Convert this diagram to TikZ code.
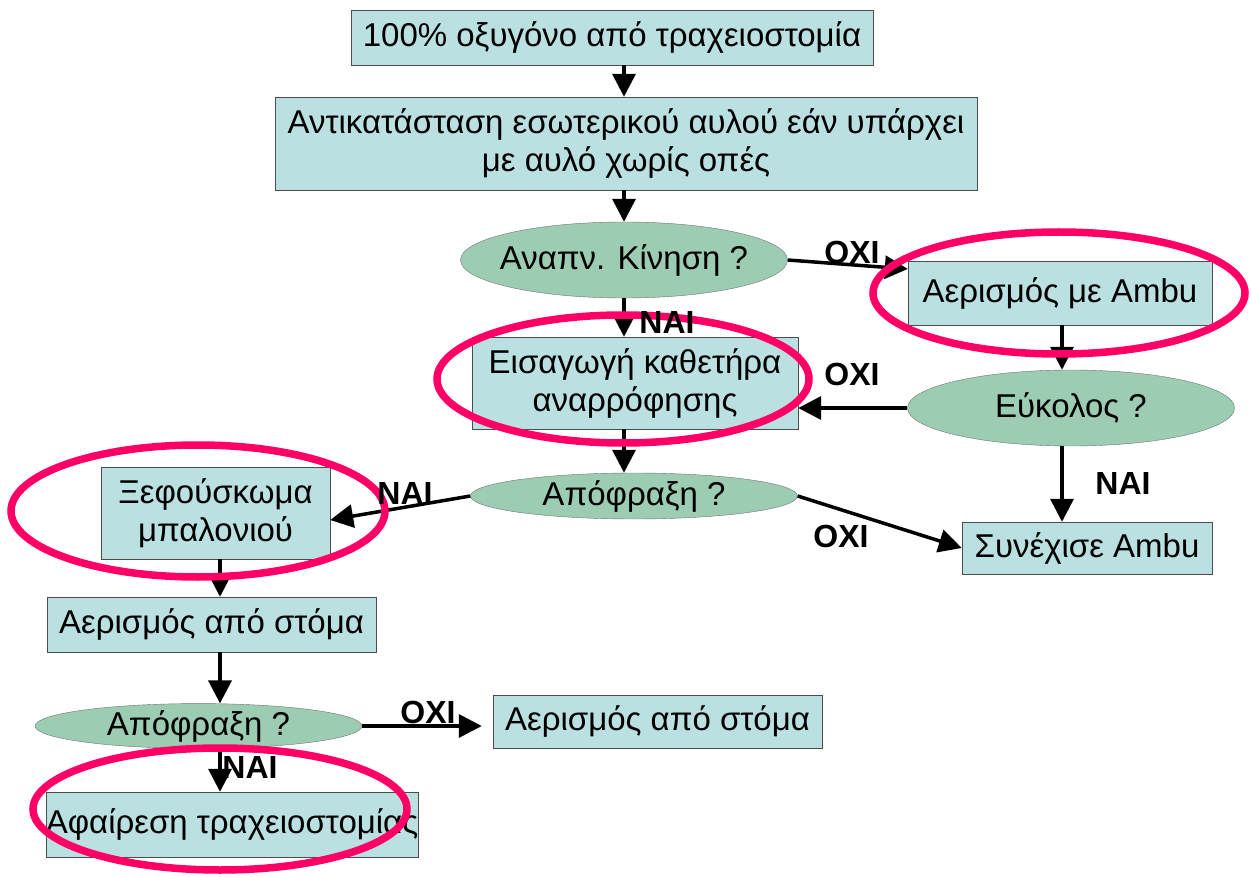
\documentclass[tikz,border=0pt]{standalone}
\usepackage{fontspec}
\setmainfont{Liberation Sans}
\usetikzlibrary{arrows.meta,shapes.geometric}

\definecolor{boxfill}{RGB}{186,224,226}
\definecolor{askfill}{RGB}{156,204,178}
\definecolor{ringred}{RGB}{255,0,102}

\begin{document}
\begin{tikzpicture}[
  x=1pt,y=-1pt,
  % one unit is one pixel of the slide, y runs downwards
  stepbox/.style={draw=black!70,fill=boxfill,inner sep=0pt,align=center,
                  font=\fontsize{33}{38}\selectfont},
  % the question bubbles keep their size, the text may stick out
  ask/.style={ellipse,draw=black!55,fill=askfill,inner sep=0pt,inner xsep=-12pt,
              minimum width=327pt,font=\fontsize{33}{38}\selectfont},
  flow/.style={line width=3.5pt,-{Triangle[length=23pt,width=23pt]}},
  ans/.style={font=\bfseries\fontsize{32}{38}\selectfont},
  ring/.style={draw=ringred,line width=7.5pt},
]
\useasboundingbox (0,0) rectangle (1251,877);

%--- columns the vertical arrows run along -----------------------------------
\coordinate (colL) at (220,0);
\coordinate (colM) at (624,0);
\coordinate (colR) at (1062,0);

%--- steps and questions -----------------------------------------------------
\node[stepbox,minimum width=522pt,minimum height=55pt] (oxy) at (612,37.5)
  {100\% οξυγόνο από τραχειοστομία};
\node[stepbox,minimum width=702pt,minimum height=93pt] (tube) at (626,143.5)
  {Αντικατάσταση εσωτερικού αυλού εάν υπάρχει\\με αυλό χωρίς οπές};
\node[ask,minimum height=76pt] (breath) at (624,260) {Αναπν. Κίνηση ?};
\node[stepbox,minimum width=304pt,minimum height=64pt] (ambu) at (1060,293)
  {Αερισμός με Ambu};
\node[stepbox,minimum width=326pt,minimum height=92pt] (cath) at (635,383)
  {Εισαγωγή καθετήρα\\αναρρόφησης};
\node[ask,minimum height=76pt] (easy) at (1071,408) {Εύκολος ?};
\node[stepbox,minimum width=250pt,minimum height=52pt] (keep) at (1087,548)
  {Συνέχισε Ambu};
\node[ask,minimum height=46pt] (block) at (634,496) {Απόφραξη ?};
\node[stepbox,minimum width=229pt,minimum height=92pt] (cuff) at (215.5,513)
  {Ξεφούσκωμα\\μπαλονιού};
\node[stepbox,minimum width=329pt,minimum height=55pt] (mouthA) at (211.5,624.5)
  {Αερισμός από στόμα};
\node[ask,minimum height=42pt] (blockB) at (198.5,726) {Απόφραξη ?};
\node[stepbox,minimum width=329pt,minimum height=53pt] (mouthB) at (657.5,721.5)
  {Αερισμός από στόμα};
\node[stepbox,minimum width=370pt,minimum height=65pt] (remove) at (232,824.5)
  {Αφαίρεση τραχειοστομίας};

%--- arrows ------------------------------------------------------------------
\draw[flow] (oxy.south -| colM) -- (tube.north -| colM);
\draw[flow] (tube.south -| colM) -- (breath.north);
\draw[flow] (breath.south) -- (cath.north -| colM);
\draw[flow] (breath.east) -- ([yshift=24pt]ambu.west);
\draw[flow] (ambu.south -| colR) -- (easy.north -| colR);
\draw[flow] (easy.west) -- (easy.west -| cath.east);
\draw[flow] (easy.south -| colR) -- (keep.north -| colR);
\draw[flow] (cath.south -| colM) -- (block.north -| colM);
\draw[flow] (block.east) -- (keep.west);
\draw[flow] (block.west) -- ([yshift=-7pt]cuff.east);
\draw[flow] (cuff.south -| colL) -- (mouthA.north -| colL);
\draw[flow] (mouthA.south -| colL) -- (blockB.north -| colL);
\draw[flow] (blockB.south -| colL) -- (remove.north -| colL);
\draw[flow,shorten >=11pt] (blockB.east) -- (blockB.east -| mouthB.west);

%--- hand-drawn highlight rings ----------------------------------------------
\foreach \cx/\cy/\rx/\ry in {1059/293/186/61, 623/379/186/64,
                             198/511/187/66, 220/809/187/61}
  \draw[ring] (\cx,\cy) ellipse[x radius=\rx pt,y radius=\ry pt];

%--- answers on the arrows ---------------------------------------------------
\foreach \name/\x/\y/\txt in {noA/852/252/ΟΧΙ, yesA/667/322/ΝΑΙ,
                              noB/852/374/ΟΧΙ, yesB/1123/483/ΝΑΙ,
                              noC/841/536/ΟΧΙ, yesC/405/493/ΝΑΙ,
                              noD/428/712/ΟΧΙ, yesD/250/767/ΝΑΙ}
  \node[ans] (\name) at (\x,\y) {\txt};

\end{tikzpicture}
\end{document}
